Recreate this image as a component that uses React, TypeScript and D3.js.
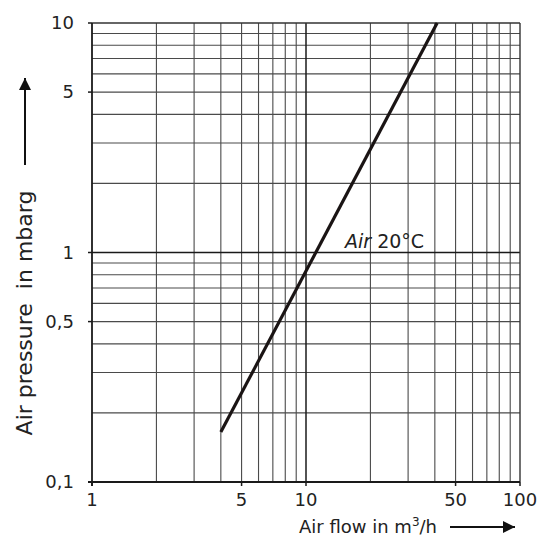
import * as d3 from "d3";

const flowTicks = [1, 5, 10, 50, 100];
const pressureTicks = [0.1, 0.5, 1, 5, 10];
const flowTickLabels = ["1", "5", "10", "50", "100"];
const pressureTickLabels = ["0,1", "0,5", "1", "5", "10"];
const flowGrid = [2, 3, 4, 5, 6, 7, 8, 9, 20, 30, 40, 50, 60, 70, 80, 90];
const pressureGrid = [0.2, 0.3, 0.4, 0.5, 0.6, 0.7, 0.8, 0.9, 2, 3, 4, 5, 6, 7, 8, 9];
const airFlow = [4, 41];
const airPressure = [0.165, 10];

const W = 548;
const H = 539;
const margin = { top: 23, right: 28, bottom: 57, left: 92 };
const font = "'DejaVu Sans', sans-serif";

export default function App() {
  const x = d3.scaleLog().domain([1, 100]).range([margin.left, W - margin.right]);
  const y = d3.scaleLog().domain([0.1, 10]).range([H - margin.bottom, margin.top]);
  const line = d3
    .line<number>()
    .x((d) => x(d))
    .y((_, i) => y(airPressure[i]));

  const x0 = x(1), x1 = x(100), y0 = y(0.1), y1 = y(10);

  return (
    <div style={{ position: "absolute", left: 0, top: 0 }}>
      <svg width={W} height={H} style={{ display: "block", background: "#fff" }}>
        <defs>
          <marker id="arr" viewBox="0 0 12 12" refX="12" refY="6" markerWidth="12" markerHeight="12" markerUnits="userSpaceOnUse" orient="auto">
            <path d="M0,0 L12,6 L0,12 z" fill="#111" />
          </marker>
        </defs>
        {/* minor grid */}
        {flowGrid.map((v) => (
          <line key={"vx" + v} x1={x(v)} x2={x(v)} y1={y1} y2={y0} stroke="#4a4a4a" strokeWidth={1.1} />
        ))}
        {pressureGrid.map((v) => (
          <line key={"hy" + v} x1={x0} x2={x1} y1={y(v)} y2={y(v)} stroke="#4a4a4a" strokeWidth={1.1} />
        ))}
        {/* major grid */}
        <line x1={x(10)} x2={x(10)} y1={y1} y2={y0} stroke="#1a1a1a" strokeWidth={1.5} />
        <line x1={x0} x2={x1} y1={y(1)} y2={y(1)} stroke="#1a1a1a" strokeWidth={1.6} />
        {/* frame */}
        <line x1={x0} x2={x1} y1={y1} y2={y1} stroke="#333" strokeWidth={1.4} />
        <line x1={x1} x2={x1} y1={y1} y2={y0} stroke="#333" strokeWidth={1.4} />
        <line x1={x0} x2={x0} y1={y1} y2={y0 + 4} stroke="#1a1a1a" strokeWidth={1.8} />
        <line x1={x0 - 4} x2={x1} y1={y0} y2={y0} stroke="#1a1a1a" strokeWidth={2} />
        {/* ticks */}
        {flowTicks.map((v, i) => (
          <g key={"xt" + v}>
            <line x1={x(v)} x2={x(v)} y1={y0} y2={y0 + 4} stroke="#1a1a1a" strokeWidth={1.5} />
            <text x={x(v)} y={y0 + 24} textAnchor="middle" fontFamily={font} fontSize={18} fill="#222">
              {flowTickLabels[i]}
            </text>
          </g>
        ))}
        {pressureTicks.map((v, i) => (
          <g key={"yt" + v}>
            <line x1={x0 - 4} x2={x0} y1={y(v)} y2={y(v)} stroke="#1a1a1a" strokeWidth={1.5} />
            <text x={x0 - 18} y={y(v)} dy="0.35em" textAnchor="end" fontFamily={font} fontSize={18} fill="#222">
              {pressureTickLabels[i]}
            </text>
          </g>
        ))}
        {/* curve */}
        <path d={line(airFlow) ?? ""} fill="none" stroke="#1a1414" strokeWidth={3.2} />
        <text x={345} y={y(1) - 5} fontFamily={font} fontSize={19} fill="#222">
          <tspan fontStyle="italic">Air</tspan> 20°C
        </text>
        {/* axis titles */}
        <text
          transform={`translate(32,${(183 + 443) / 2}) rotate(-90)`}
          textAnchor="middle"
          fontFamily={font}
          fontSize={22}
          fill="#222"
          style={{ whiteSpace: "pre" }}
        >
          Air pressure  in mbarg
        </text>
        <line x1={25} x2={25} y1={165} y2={78} stroke="#111" strokeWidth={2} markerEnd="url(#arr)" />
        <text x={299} y={533} fontFamily={font} fontSize={18} fill="#222">
          Air flow in m<tspan dy={-7} fontSize={12}>3</tspan>
          <tspan dy={7}>/h</tspan>
        </text>
        <line x1={450} x2={515} y1={527} y2={527} stroke="#111" strokeWidth={2} markerEnd="url(#arr)" />
      </svg>
    </div>
  );
}
